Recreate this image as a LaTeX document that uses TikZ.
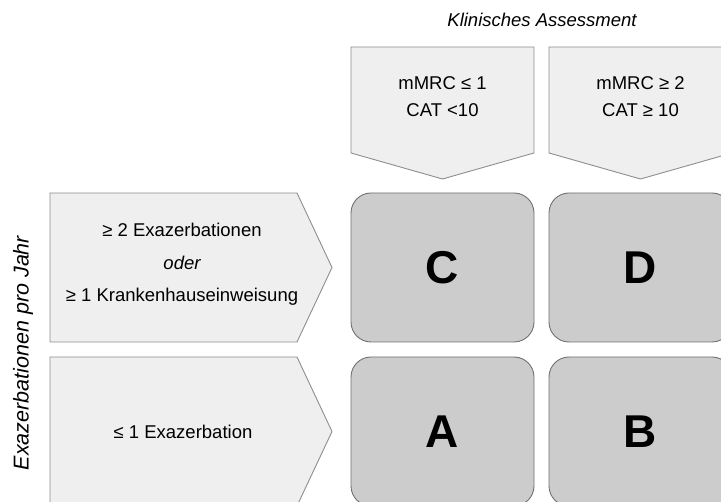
\documentclass[tikz,border=0pt]{standalone}
\usepackage{fontspec}
\setmainfont{Liberation Sans}
\usetikzlibrary{calc}
\definecolor{penfill}{HTML}{EFEFEF}
\definecolor{penline}{HTML}{8E8E8E}
\definecolor{boxfill}{HTML}{CCCCCC}
\definecolor{boxline}{HTML}{707070}
\begin{document}
\begin{tikzpicture}[x=1pt,y=-1pt,
  pent/.style={fill=penfill,draw=penline,line width=0.9pt,line join=miter},
  grp/.style={fill=boxfill,draw=boxline,line width=0.9pt,rounded corners=20pt},
  txt/.style={font=\fontsize{18.5}{22}\selectfont,align=center,inner sep=0pt},
  big/.style={font=\fontsize{46}{50}\selectfont\bfseries,inner sep=0pt},
  ttl/.style={font=\fontsize{18.5}{22}\selectfont\itshape,inner sep=0pt}]
\useasboundingbox (0,0) rectangle (721,502);
\clip (0,0) rectangle (721,502);
% top pentagons
\draw[pent] (351,47) -- (534,47) -- (534,153) -- (442.5,179) -- (351,153) -- cycle;
\draw[pent] (549,47) -- (732,47) -- (732,153) -- (640.5,179) -- (549,153) -- cycle;
% left pentagons
\draw[pent] (50,193) -- (297,193) -- (332,267.5) -- (297,342) -- (50,342) -- cycle;
\draw[pent] (50,357) -- (297,357) -- (332,431.5) -- (297,506) -- (50,506) -- cycle;
% group boxes
\draw[grp] (351,193) rectangle (534,342);
\draw[grp] (549,193) rectangle (732,342);
\draw[grp] (351,357) rectangle (534,506);
\draw[grp] (549,357) rectangle (732,506);
% labels
\node[ttl] (title) at (542,20) {Klinisches Assessment};
\node[ttl,rotate=90,font=\fontsize{21.5}{24}\selectfont\itshape] (ylab) at (23,353) {Exazerbationen pro Jahr};
\node[txt] (m1) at (442.5,83) {mMRC ≤ 1};
\node[txt] (c1) at (442.5,110) {CAT <10};
\node[txt] (m2) at (640.5,83) {mMRC ≥ 2};
\node[txt] (c2) at (640.5,110) {CAT ≥ 10};
\node[txt] (e1) at (182,230) {≥ 2 Exazerbationen};
\node[txt] (e2) at (182,263) {\itshape oder};
\node[txt] (e3) at (182,297) {≥ 1 Krankenhauseinweisung};
\node[txt] (e4) at (183,432) {≤ 1 Exazerbation};
\node[big] (C) at (442.5,268) {C};
\node[big] (D) at (640.5,268) {D};
\node[big] (A) at (442.5,432) {A};
\node[big] (B) at (640.5,432) {B};
\end{tikzpicture}
\end{document}
